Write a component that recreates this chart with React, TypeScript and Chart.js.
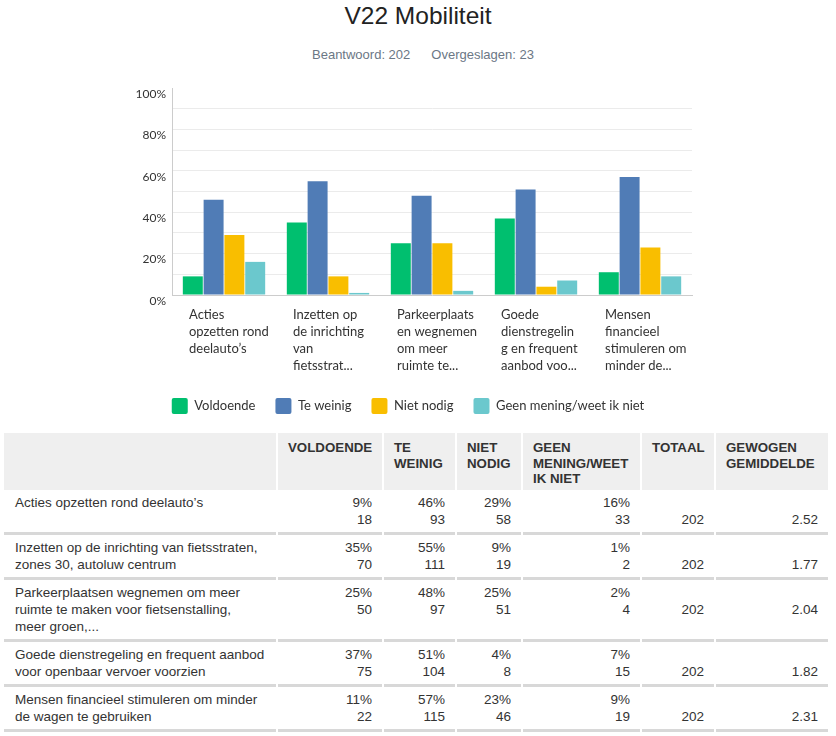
import React, { useEffect, useRef } from "react";
import { Chart, registerables } from "chart.js";

Chart.register(...registerables);

// ---------- data ----------
const chartTitle = "V22 Mobiliteit";
const answeredText = "Beantwoord: 202";
const skippedText = "Overgeslagen: 23";

const categories = [
  "Acties opzetten rond deelauto’s",
  "Inzetten op de inrichting van fietsstraten, zones 30, autoluw centrum",
  "Parkeerplaatsen wegnemen om meer ruimte te maken voor fietsenstalling, meer groen,...",
  "Goede dienstregeling en frequent aanbod voor openbaar vervoer voorzien",
  "Mensen financieel stimuleren om minder de wagen te gebruiken",
];

const axisLabels = [
  ["Acties", "opzetten rond", "deelauto’s"],
  ["Inzetten op", "de inrichting", "van", "fietsstrat..."],
  ["Parkeerplaats", "en wegnemen", "om meer", "ruimte te..."],
  ["Goede", "dienstregelin", "g en frequent", "aanbod voo..."],
  ["Mensen", "financieel", "stimuleren om", "minder de..."],
];

const seriesNames = ["Voldoende", "Te weinig", "Niet nodig", "Geen mening/weet ik niet"];
const seriesColors = ["#00BF6F", "#507CB6", "#F9BE00", "#6BC8CD"];

const pctVoldoende = [9, 35, 25, 37, 11];
const pctTeWeinig = [46, 55, 48, 51, 57];
const pctNietNodig = [29, 9, 25, 4, 23];
const pctGeenMening = [16, 1, 2, 7, 9];

const cntVoldoende = [18, 70, 50, 75, 22];
const cntTeWeinig = [93, 111, 97, 104, 115];
const cntNietNodig = [58, 19, 51, 8, 46];
const cntGeenMening = [33, 2, 4, 15, 19];

const totals = [202, 202, 202, 202, 202];
const weightedAvg = ["2.52", "1.77", "2.04", "1.82", "2.31"];

const tableHeaders = ["", "VOLDOENDE", "TE WEINIG", "NIET NODIG", "GEEN MENING/WEET IK NIET", "TOTAAL", "GEWOGEN GEMIDDELDE"];

const yTickValues = [0, 20, 40, 60, 80, 100];

// ---------- styling ----------
const CHART_FONT = "Lato, 'Noto Sans', sans-serif";
const TABLE_FONT = "'Liberation Sans', Arial, sans-serif";
const TEXT = "#333333";

export default function App() {
  const canvasRef = useRef<HTMLCanvasElement | null>(null);

  useEffect(() => {
    const pcts = [pctVoldoende, pctTeWeinig, pctNietNodig, pctGeenMening];
    const chart = new Chart(canvasRef.current as HTMLCanvasElement, {
      type: "bar",
      data: {
        labels: axisLabels as any,
        datasets: seriesNames.map((name, i) => ({
          label: name,
          data: pcts[i],
          backgroundColor: seriesColors[i],
          borderWidth: 0,
          categoryPercentage: 0.8,
          barPercentage: 0.96,
        })),
      },
      options: {
        animation: false,
        responsive: false,
        events: [],
        layout: { padding: { left: 124, right: 144, top: 12, bottom: 0 } },
        plugins: {
          tooltip: { enabled: false },
          legend: {
            position: "bottom",
            labels: {
              boxWidth: 16,
              boxHeight: 16,
              padding: 20,
              color: TEXT,
              useBorderRadius: true,
              borderRadius: 2,
              font: { family: CHART_FONT, size: 13 },
            },
          },
        },
        scales: {
          x: {
            grid: { display: false, drawTicks: false },
            border: { color: "#cccccc", width: 1 },
            ticks: {
              align: "start",
              labelOffset: -35,
              padding: 11.5,
              maxRotation: 0,
              minRotation: 0,
              autoSkip: false,
              color: TEXT,
              font: { family: CHART_FONT, size: 13, lineHeight: "17px" },
            },
            afterFit: (s: any) => {
              s.height = 83;
              s.paddingLeft = 0;
              s.paddingRight = 0;
            },
          },
          y: {
            min: 0,
            max: 100,
            grid: {
              drawTicks: false,
              color: (c: any) =>
                c.tick && (c.tick.value === 100 || c.tick.value === 0) ? "rgba(0,0,0,0)" : "#ebebeb",
            },
            border: { color: "#cccccc", width: 1 },
            ticks: {
              stepSize: 10,
              autoSkip: false,
              padding: 6,
              labelOffset: 6,
              color: TEXT,
              font: { family: CHART_FONT, size: 12 },
              callback: (v: any) => (yTickValues.includes(Number(v)) ? v + "%" : ""),
            },
            afterFit: (s: any) => {
              s.width = 48;
              s.paddingTop = 0;
              s.paddingBottom = 0;
            },
          },
        },
      },
    });
    return () => chart.destroy();
  }, []);

  const colWidths = "272px 104px 71px 64px 117px 72px 112px";

  const headerCell = (text: string, i: number) => (
    <div
      key={"h" + i}
      style={{
        background: "#efefef",
        height: 57,
        boxSizing: "border-box",
        padding: "7px 6px 3px 10px",
        fontWeight: "bold",
        fontSize: "13.3px",
        lineHeight: "15.5px",
        color: TEXT,
        textAlign: "left",
      }}
    >
      {text}
    </div>
  );

  const bodyCellBase: React.CSSProperties = {
    borderBottom: "3px solid #d8d8d8",
    padding: "4px 10px 4px 10px",
    fontSize: "13.5px",
    lineHeight: "17px",
    color: TEXT,
    textAlign: "right",
    boxSizing: "border-box",
  };

  const rows = categories.map((cat, r) => {
    const pairs = [
      [pctVoldoende[r], cntVoldoende[r]],
      [pctTeWeinig[r], cntTeWeinig[r]],
      [pctNietNodig[r], cntNietNodig[r]],
      [pctGeenMening[r], cntGeenMening[r]],
    ];
    return (
      <React.Fragment key={"r" + r}>
        <div style={{ ...bodyCellBase, textAlign: "left", padding: "4px 11.5px 4px 11px" }}>{cat}</div>
        {pairs.map((p, j) => (
          <div key={j} style={bodyCellBase}>
            <div>{p[0]}%</div>
            <div>{p[1]}</div>
          </div>
        ))}
        <div style={bodyCellBase}>
          <div>&nbsp;</div>
          <div>{totals[r]}</div>
        </div>
        <div style={bodyCellBase}>
          <div>&nbsp;</div>
          <div>{weightedAvg[r]}</div>
        </div>
      </React.Fragment>
    );
  });

  return (
    <div
      style={{
        position: "absolute",
        left: 0,
        top: 0,
        width: 836,
        height: 736,
        overflow: "hidden",
        background: "#ffffff",
        fontFamily: TABLE_FONT,
      }}
    >
      <div
        style={{
          position: "absolute",
          top: 1,
          left: 0,
          width: 836,
          textAlign: "center",
          fontSize: "24.5px",
          lineHeight: "30px",
          color: "#222222",
        }}
      >
        {chartTitle}
      </div>
      <div
        style={{
          position: "absolute",
          top: 47,
          left: 312,
          fontSize: "13px",
          lineHeight: "16px",
          color: "#6b7785",
          whiteSpace: "nowrap",
        }}
      >
        <span style={{ marginRight: 21 }}>{answeredText}</span>
        <span>{skippedText}</span>
      </div>
      <div style={{ position: "absolute", top: 76, left: 0, width: 836, height: 348 }}>
        <canvas ref={canvasRef} width={836} height={348} style={{ display: "block", width: 836, height: 348 }} />
      </div>
      <div
        style={{
          position: "absolute",
          top: 433,
          left: 4,
          width: 824,
          display: "grid",
          gridTemplateColumns: colWidths,
          columnGap: 2,
          rowGap: 0,
        }}
      >
        {tableHeaders.map((h, i) => headerCell(h, i))}
        {rows}
      </div>
    </div>
  );
}
